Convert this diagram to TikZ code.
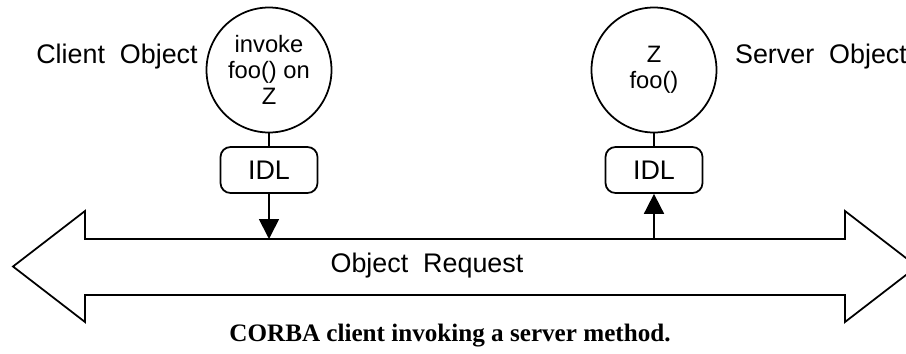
\documentclass[tikz,border=0pt]{standalone}
\usepackage{fontspec}
\setmainfont{Liberation Sans}
\newfontfamily\capfont{Liberation Serif}
\usetikzlibrary{arrows.meta}

\begin{document}
\begin{tikzpicture}[
    obj/.style={draw, circle, line width=1pt, minimum size=2.5cm, inner sep=0pt,
                align=center, font=\fontsize{13.5}{14.8}\selectfont},
    idl/.style={draw, line width=1pt, rounded corners=0.2cm, minimum width=1.94cm,
                minimum height=0.92cm, font=\fontsize{15.3}{17}\selectfont},
    lbl/.style={font=\fontsize{15.3}{17}\selectfont},
    arr/.style={-{Triangle[length=0.4cm,width=0.4cm]}, line width=1pt}
]
    \useasboundingbox (0,0) rectangle (18.12,7.06);

    \node[obj] (client) at (5.38,5.66) {invoke\\foo() on\\Z};
    \node[obj] (server) at (13.08,5.66) {Z\\foo()};
    \node[idl] (cidl) at (5.38,3.66) {IDL};
    \node[idl] (sidl) at (13.08,3.66) {IDL};
    \node[lbl] (cname) at (2.34,5.92) {Client\ \ Object};
    \node[lbl] (sname) at (16.42,5.92) {Server\ \ Object};

    % the ORB as a two-headed arrow
    \draw[line width=1pt] (0.26,1.73) -- (1.70,2.84) -- (1.70,2.28) -- (16.90,2.28)
        -- (16.90,2.84) -- (18.34,1.73) -- (16.90,0.62) -- (16.90,1.16)
        -- (1.70,1.16) -- (1.70,0.62) -- cycle;
    \coordinate (bus) at (9.0,2.28);
    \node[lbl] (req) at (8.54,1.74) {Object\ \ Request};

    \draw[line width=1pt] (client) -- (cidl);
    \draw[line width=1pt] (server) -- (sidl);
    \draw[arr] (cidl) -- (cidl |- bus);
    \draw[arr] (sidl |- bus) -- (sidl);

    \node[font=\capfont\bfseries\fontsize{14.3}{16}\selectfont] (caption) at (9.0,0.34)
        {CORBA client invoking a server method.};
\end{tikzpicture}
\end{document}
